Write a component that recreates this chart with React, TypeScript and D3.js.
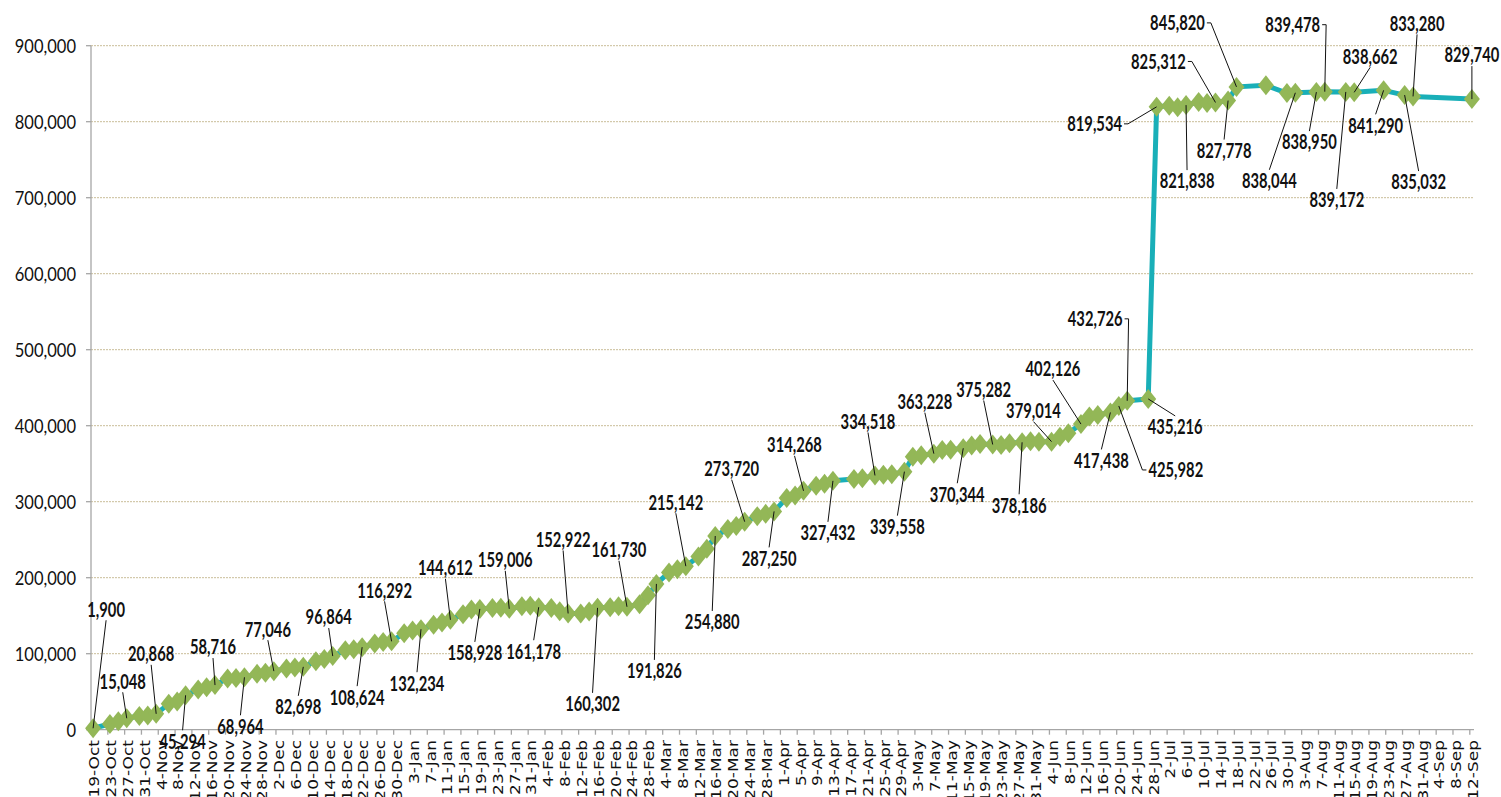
import React from "react";
import * as d3 from "d3";

const WIDTH = 1501;
const HEIGHT = 797;

// reporting days (mostly Fri / Sun / Tue)
const dates = [
  "2020-10-19", "2020-10-23", "2020-10-25", "2020-10-27", "2020-10-30", "2020-11-01", "2020-11-03",
  "2020-11-06", "2020-11-08", "2020-11-10", "2020-11-13", "2020-11-15", "2020-11-17",
  "2020-11-20", "2020-11-22", "2020-11-24", "2020-11-27", "2020-11-29", "2020-12-01",
  "2020-12-04", "2020-12-06", "2020-12-08", "2020-12-11", "2020-12-13", "2020-12-15",
  "2020-12-18", "2020-12-20", "2020-12-22", "2020-12-25", "2020-12-27", "2020-12-29",
  "2021-01-01", "2021-01-03", "2021-01-05", "2021-01-08", "2021-01-10", "2021-01-12",
  "2021-01-15", "2021-01-17", "2021-01-19", "2021-01-22", "2021-01-24", "2021-01-26",
  "2021-01-29", "2021-01-31", "2021-02-02", "2021-02-05", "2021-02-07", "2021-02-09",
  "2021-02-12", "2021-02-14", "2021-02-16", "2021-02-19", "2021-02-21", "2021-02-23",
  "2021-02-26", "2021-02-28", "2021-03-02", "2021-03-05", "2021-03-07", "2021-03-09",
  "2021-03-12", "2021-03-14", "2021-03-16", "2021-03-19", "2021-03-21", "2021-03-23",
  "2021-03-26", "2021-03-28", "2021-03-30", "2021-04-02", "2021-04-04", "2021-04-06",
  "2021-04-09", "2021-04-11", "2021-04-13", "2021-04-18", "2021-04-20", "2021-04-23",
  "2021-04-25", "2021-04-27", "2021-04-30", "2021-05-02", "2021-05-04", "2021-05-07",
  "2021-05-09", "2021-05-11", "2021-05-14", "2021-05-16", "2021-05-18", "2021-05-21",
  "2021-05-23", "2021-05-25", "2021-05-28", "2021-05-30", "2021-06-01", "2021-06-04",
  "2021-06-06", "2021-06-08", "2021-06-11", "2021-06-13", "2021-06-15", "2021-06-18",
  "2021-06-20", "2021-06-22", "2021-06-27", "2021-06-29", "2021-07-02", "2021-07-04",
  "2021-07-06", "2021-07-09", "2021-07-11", "2021-07-13", "2021-07-16", "2021-07-18",
  "2021-07-25", "2021-07-30", "2021-08-01", "2021-08-06", "2021-08-08", "2021-08-13",
  "2021-08-15", "2021-08-22", "2021-08-27", "2021-08-29", "2021-09-12",
];

const values = [
  1900, 7500, 11000, 15048, 18000, 18800, 20868,
  34000, 37000, 45294, 53000, 56000, 58716,
  67500, 68000, 68964, 73500, 75000, 77046,
  80500, 82000, 82698, 90000, 93000, 96864,
  104500, 106000, 108624, 113500, 115500, 116292,
  127000, 130500, 132234, 138000, 141000, 144612,
  152000, 158000, 158928, 160000, 160500, 159006,
  162500, 163000, 161178, 160000, 156000, 152922,
  153000, 155500, 160302, 161000, 162500, 161730,
  165000, 177000, 191826, 207000, 211000, 215142,
  228000, 238000, 254880, 264000, 268000, 273720,
  281000, 284000, 287250, 305000, 308000, 314268,
  321000, 323500, 327432, 330000, 331000, 334518,
  335500, 336000, 339558, 359000, 361000, 363228,
  368000, 368500, 370344, 374000, 376000, 375282,
  374500, 377000, 378186, 379500, 379000, 379014,
  385500, 390000, 402126, 412000, 414000, 417438,
  425982, 432726, 435216, 819534, 821000, 819000,
  821838, 826000, 824500, 825312, 827778, 845820,
  847900, 837600, 838044, 838950, 839478, 839172,
  838662, 841290, 835032, 833280, 829740,
];

const yTicks = [0, 100000, 200000, 300000, 400000, 500000, 600000, 700000, 800000, 900000];
const xTickStart = "2020-10-19";
const xTickEnd = "2021-09-12";
const xTickStepDays = 4;

// points that carry a data label
const labelDates = [
  "2020-10-19", "2020-10-27", "2020-11-03", "2020-11-10", "2020-11-17", "2020-11-24",
  "2020-12-01", "2020-12-08", "2020-12-15", "2020-12-22", "2020-12-29", "2021-01-05",
  "2021-01-12", "2021-01-19", "2021-01-26", "2021-02-02", "2021-02-09", "2021-02-16",
  "2021-02-23", "2021-03-02", "2021-03-09", "2021-03-16", "2021-03-23", "2021-03-30",
  "2021-04-06", "2021-04-13", "2021-04-23", "2021-04-30", "2021-05-07", "2021-05-14",
  "2021-05-21", "2021-05-28", "2021-06-04", "2021-06-11", "2021-06-18", "2021-06-20",
  "2021-06-22", "2021-06-27", "2021-06-29", "2021-07-13", "2021-07-06", "2021-07-16",
  "2021-07-18", "2021-08-01", "2021-08-08", "2021-08-06", "2021-08-13", "2021-08-15",
  "2021-08-22", "2021-08-27", "2021-08-29", "2021-09-12",
];

// label placement relative to its point: dx, dy, leader side
const labelOffsets: [number, number, string?][] = [
  [13, -119], [-4, -37], [-5, -60], [-3, 46], [-2, -38], [-4, 49],
  [-6, -42], [-5, 40], [-4, -39], [-5, 50], [-7, -51], [-4, 54],
  [-5, -52], [-5, 44], [-4, -49], [-5, 44], [-5, -74], [-5, 96],
  [-8, -57], [-2, 87], [-10, -64], [-3, 86], [-13, -53], [-5, 47],
  [-9, -46], [-5, 52], [-7, -54], [-7, 55], [-9, -52], [-6, 46],
  [-9, -55], [-3, 63], [-18, -31], [-28, -55], [-9, 48], [57, 64, "l"],
  [-32, -82, "r"], [27, 28], [-62, 17, "r"], [-57, -41, "r"], [1, 76], [-4, 50],
  [-59, -64, "r"], [-26, 88], [-32, -67, "r"], [-7, 50], [-9, 108], [16, -36],
  [-8, 35], [14, 87], [4, -73], [0, -44],
];

const parse = d3.utcParse("%Y-%m-%d");
const fmt = d3.format(",");

const LINE_COLOR = "#19afb8";
const MARKER_COLOR = "#93b757";
const GRID_COLOR = "#c9bd98";
const AXIS_COLOR = "#a6a6a6";

export default function App() {
  const start = parse(xTickStart) as Date;
  const end = parse(xTickEnd) as Date;

  const x = d3.scaleUtc().domain([start, d3.utcDay.offset(end, 1)]).range([91, 1474]);
  const y = d3.scaleLinear().domain([0, 900000]).range([729.7, 45.7]);
  const mid = (d: Date) => x(d3.utcHour.offset(d, 12));

  const points = dates.map((d, i) => ({ date: parse(d) as Date, value: values[i] }));
  const line = d3
    .line<{ date: Date; value: number }>()
    .x((d) => mid(d.date))
    .y((d) => y(d.value));

  const xTicks = d3.utcDay.range(start, d3.utcDay.offset(end, 1), xTickStepDays);
  const tickFmt = d3.utcFormat("%-d-%b");

  const labels = labelDates.map((ld, i) => {
    const idx = dates.indexOf(ld);
    const p = points[idx];
    const px = mid(p.date);
    const py = y(p.value);
    const [dx, dy, side] = labelOffsets[i];
    const text = fmt(p.value);
    const digits = text.replace(/,/g, "").length;
    const commas = text.length - digits;
    const w = (digits * 0.58 + commas * 0.23) * 20.5 * 0.72;
    const cx = px + dx;
    const cy = py + dy;
    let path = "";
    if (side === "r") {
      const sx = cx + w / 2 + 2;
      path = `M${sx},${cy}H${sx + 4}L${px},${py}`;
    } else if (side === "l") {
      const sx = cx - w / 2 - 2;
      path = `M${sx},${cy}H${sx - 4}L${px},${py}`;
    } else if (dy < 0) {
      path = `M${cx},${cy + 11}L${px},${py}`;
    } else {
      path = `M${cx},${cy - 11}L${px},${py}`;
    }
    return { text, cx, cy, path };
  });

  return (
    <svg
      width={WIDTH}
      height={HEIGHT}
      style={{ position: "absolute", left: 0, top: 0, background: "#fff" }}
    >
      {/* gridlines */}
      {yTicks.slice(1).map((t) => (
        <line
          key={"g" + t}
          x1={91}
          x2={1474}
          y1={y(t)}
          y2={y(t)}
          stroke={GRID_COLOR}
          strokeWidth={1}
          strokeDasharray="2 1"
        />
      ))}

      {/* y axis */}
      <line x1={91} x2={91} y1={y(900000)} y2={y(0)} stroke={AXIS_COLOR} strokeWidth={1.3} />
      {yTicks.map((t) => (
        <g key={"y" + t}>
          <line x1={86} x2={91} y1={y(t)} y2={y(t)} stroke={AXIS_COLOR} strokeWidth={1.3} />
          <text
            transform={`translate(76,${y(t)}) scale(0.87,1)`}
            textAnchor="end"
            dy="0.36em"
            fontFamily="Lato"
            fontSize={19}
            fill="#111"
          >
            {fmt(t)}
          </text>
        </g>
      ))}

      {/* x axis */}
      <line x1={91} x2={1474} y1={y(0)} y2={y(0)} stroke={AXIS_COLOR} strokeWidth={1.3} />
      {xTicks.map((d) => (
        <g key={"x" + d.getTime()}>
          <line x1={x(d)} x2={x(d)} y1={y(0)} y2={y(0) + 5} stroke={AXIS_COLOR} strokeWidth={1.3} />
          <text
            transform={`translate(${mid(d) + 1},740) scale(0.85,1) rotate(-90)`}
            textAnchor="end"
            dy="0.36em"
            fontFamily="DejaVu Sans"
            fontSize={17}
            fill="#111"
          >
            {tickFmt(d)}
          </text>
        </g>
      ))}

      {/* series */}
      <path d={line(points) || ""} fill="none" stroke={LINE_COLOR} strokeWidth={5} strokeLinejoin="round" />
      {points.map((p, i) => (
        <path
          key={"m" + i}
          transform={`translate(${mid(p.date)},${y(p.value)})`}
          d="M0,-10L8,0L0,10L-8,0Z"
          fill={MARKER_COLOR}
        />
      ))}

      {/* data labels */}
      {labels.map((l, i) => (
        <g key={"l" + i}>
          <path d={l.path} fill="none" stroke="#111" strokeWidth={1} />
          <text
            transform={`translate(${l.cx},${l.cy}) scale(0.72,1)`}
            textAnchor="middle"
            dy="0.36em"
            fontFamily="Lato"
            fontWeight={700}
            fontSize={20.5}
            fill="#111"
          >
            {l.text}
          </text>
        </g>
      ))}
    </svg>
  );
}
